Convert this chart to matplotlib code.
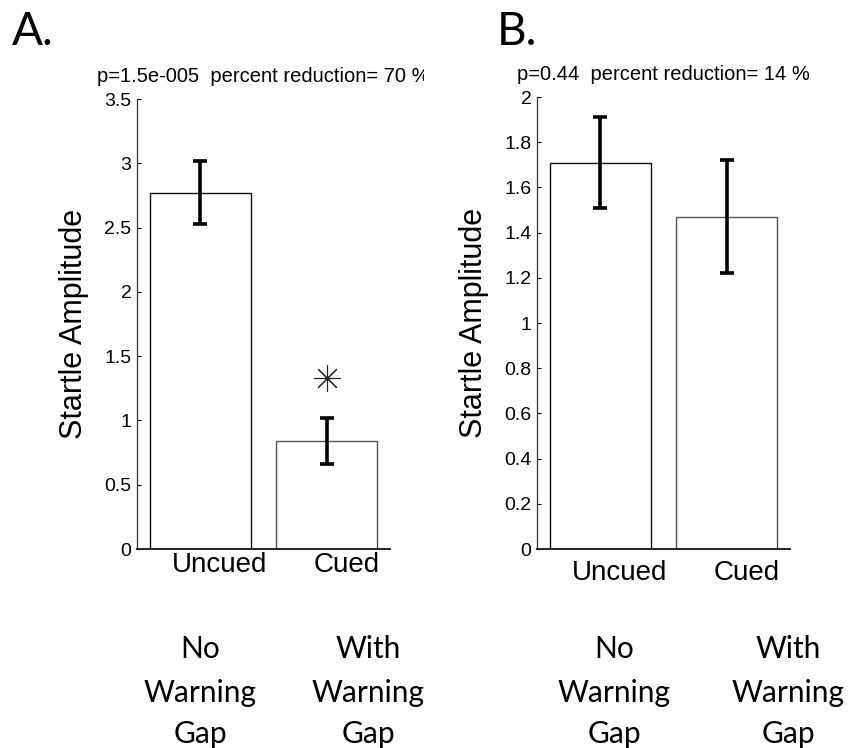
import matplotlib
matplotlib.use("Agg")
import matplotlib.pyplot as plt
from matplotlib.transforms import Bbox, TransformedBbox, ScaledTranslation
import numpy as np

plt.rcParams['font.family'] = ['Liberation Sans', 'DejaVu Sans']

# ---- data ----
categories = ["Uncued", "Cued"]
group_labels = ["No\nWarning\nGap", "With\nWarning\nGap"]

a_means = [2.77, 0.84]
a_errs = [0.245, 0.18]
a_star = 1.33
a_title = "p=1.5e-005  percent reduction= 70 %"
a_yticks = [0, 0.5, 1, 1.5, 2, 2.5, 3, 3.5]

b_means = [1.71, 1.47]
b_errs = [0.20, 0.25]
b_title = "p=0.44  percent reduction= 14 %"
b_yticks = [0, 0.2, 0.4, 0.6, 0.8, 1, 1.2, 1.4, 1.6, 1.8, 2]

W, H = 848, 748
fig = plt.figure(figsize=(W / 100, H / 100), dpi=100)

axA = fig.add_axes([137 / W, 199 / H, 253 / W, 450 / H])
axB = fig.add_axes([537 / W, 199 / H, 253 / W, 452 / H])


def style(ax, means, errs, yticks, title, label_drop, clip_right=None):
    x = np.arange(1, len(means) + 1)
    ax.bar(x, means, width=0.8, color='white',
           edgecolor=['#111111', '#555555'], linewidth=1.0, zorder=2)
    ax.errorbar(x, means, yerr=errs, fmt='none', ecolor='black',
                elinewidth=2.6, capsize=4.8, capthick=2.6, zorder=3)
    ax.set_xlim(0.5, 2.5)
    ax.set_ylim(yticks[0], yticks[-1])
    ax.set_yticks(yticks)
    ax.set_yticklabels([f"{v:g}" for v in yticks])
    ax.set_xticks([])
    off = ScaledTranslation(0.195, -label_drop / 100, fig.dpi_scale_trans)
    for xi, cat in zip(x, categories):
        ax.text(xi, 0, cat, transform=ax.get_xaxis_transform() + off,
                ha='center', va='baseline', fontsize=20)
    ax.tick_params(axis='y', direction='in', length=3, width=0.8,
                   labelsize=14, pad=4, colors='black')
    for s in ['top', 'right']:
        ax.spines[s].set_visible(False)
    ax.spines['left'].set_linewidth(0.9)
    ax.spines['left'].set_color('#333333')
    ax.spines['bottom'].set_linewidth(1.4)
    ax.spines['bottom'].set_color('#222222')
    ax.set_ylabel("Startle Amplitude", fontsize=22)
    ax.yaxis.set_label_coords(-0.19, 0.5)
    t = ax.set_title(title, fontsize=14.5, pad=12)
    if clip_right is not None:
        t.set_clip_on(True)
        t.set_clip_box(TransformedBbox(Bbox.from_bounds(0, 0, clip_right / W, 1),
                                       fig.transFigure))
    return x


xA = style(axA, a_means, a_errs, a_yticks, a_title, 22.5, clip_right=424)
axA.plot([xA[1]], [a_star], linestyle='none', marker=(8, 2, 0),
         markersize=19, markeredgewidth=0.8, color='#222222', zorder=4)
style(axB, b_means, b_errs, b_yticks, b_title, 31.5)

# panel letters
fig.text(12 / W, 1 - 45 / H, "A.", fontsize=33, family='Lato', va='baseline', ha='left')
fig.text(497 / W, 1 - 45 / H, "B.", fontsize=33, family='Lato', va='baseline', ha='left')

# group labels beneath
baselines = [658, 702, 743]
centers = [200, 368, 614, 788]
for i, cx in enumerate(centers):
    lines = group_labels[i % 2].split("\n")
    for ln, by in zip(lines, baselines):
        fig.text(cx / W, 1 - by / H, ln, fontsize=21.5, family='Lato',
                 ha='center', va='baseline')

fig.savefig("out.png", dpi=100)
